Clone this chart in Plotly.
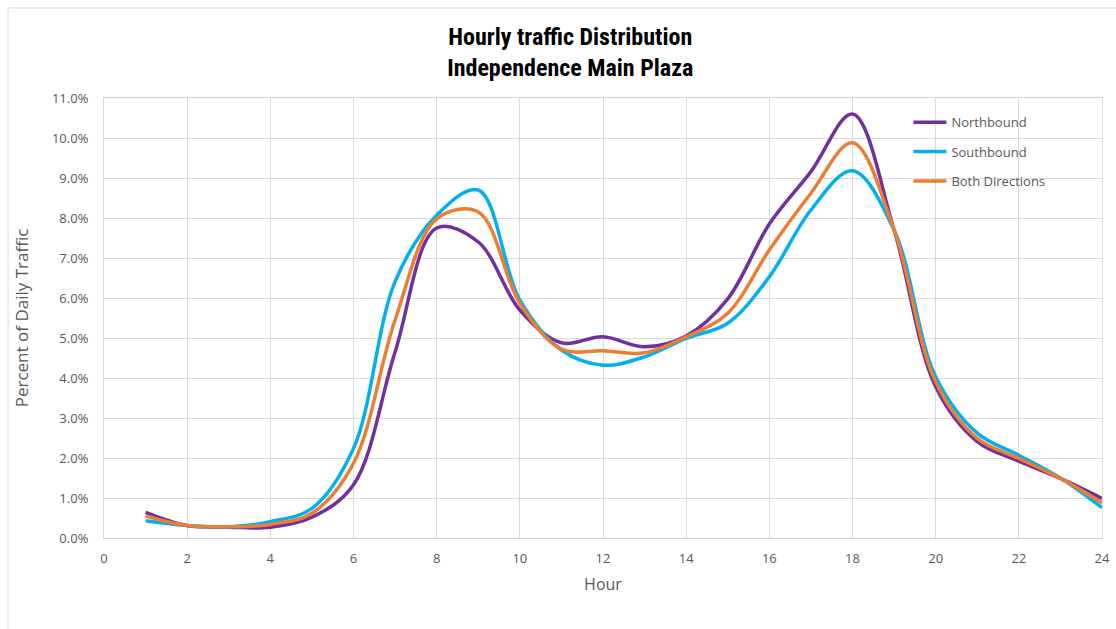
import plotly.graph_objects as go

hours = list(range(1, 25))
northbound = [0.64, 0.31, 0.27, 0.27, 0.52, 1.33, 4.65, 7.75, 7.40, 5.70, 4.88, 5.03,
              4.78, 5.05, 5.98, 7.85, 9.16, 10.60, 7.70, 3.78, 2.41, 1.92, 1.49, 0.99]
southbound = [0.43, 0.31, 0.28, 0.41, 0.74, 2.24, 6.41, 8.07, 8.70, 5.95, 4.70, 4.32,
              4.53, 4.99, 5.37, 6.53, 8.20, 9.18, 7.70, 4.03, 2.62, 2.07, 1.50, 0.76]
both_dirs = [0.55, 0.31, 0.28, 0.34, 0.62, 1.87, 5.45, 7.98, 8.15, 5.87, 4.72, 4.68,
             4.63, 5.03, 5.62, 7.20, 8.62, 9.88, 7.70, 3.90, 2.49, 1.99, 1.49, 0.88]

series = [("Northbound", northbound, "#7030A0"),
          ("Southbound", southbound, "#00B0F0"),
          ("Both Directions", both_dirs, "#ED7D31")]

y_ticks = list(range(0, 12))
y_labels = [f"{v:.1f}%" for v in y_ticks]
x_ticks = list(range(0, 25, 2))

TITLE_FONT = "Liberation Sans Narrow, Roboto Condensed, Liberation Sans, sans-serif"
FONT = "Open Sans, Roboto, sans-serif"
GRAY = "#595959"

fig = go.Figure()
for i, (name, vals, col) in enumerate(series):
    fig.add_trace(go.Scatter(
        x=hours, y=vals, name=name, mode="lines",
        line=dict(color=col, width=3.5, shape="spline", smoothing=1.0),
        legendgroup=f"g{i}", hoverinfo="skip"))

fig.update_layout(
    width=1116, height=629,
    margin=dict(l=104, r=14, t=98, b=91, autoexpand=False),
    paper_bgcolor="white", plot_bgcolor="white",
    title=dict(text="<b>Hourly traffic Distribution<br>Independence Main Plaza</b>",
               x=0.511, xanchor="center", y=0.929, yanchor="top",
               font=dict(family=TITLE_FONT, size=24, color="black")),
    font=dict(family=FONT, size=12, color=GRAY),
    showlegend=True,
    legend=dict(x=0.806, y=0.979, xanchor="left", yanchor="top",
                bgcolor="rgba(0,0,0,0)", font=dict(family=FONT, size=13, color=GRAY),
                tracegroupgap=9.5, itemwidth=33),
    xaxis=dict(range=[0, 24], tickvals=x_ticks, showgrid=True, gridcolor="#D9D9D9",
               gridwidth=1, zeroline=False, showline=True, linecolor="#D0D0D0",
               mirror=True, ticks="", ticklabelstandoff=8, automargin=False,
               tickfont=dict(family=FONT, size=13, color=GRAY),
               title=dict(text="Hour", font=dict(family=FONT, size=16, color=GRAY),
                          standoff=13)),
    yaxis=dict(range=[0, 11], tickvals=y_ticks, ticktext=y_labels, showgrid=True,
               gridcolor="#D9D9D9", gridwidth=1, zeroline=False, showline=True,
               linecolor="#D9D9D9", mirror=True, ticks="", ticklabelstandoff=12,
               automargin=False,
               tickfont=dict(family=FONT, size=13, color=GRAY),
               title=dict(text="Percent of Daily Traffic",
                          font=dict(family=FONT, size=17, color=GRAY), standoff=18)),
)

# outer chart frame (left and top edges visible in reference)
fx = (8 - 104) / 998
fy = (538 - 8) / 440
fig.add_shape(type="line", xref="paper", yref="paper",
              x0=fx, x1=1.02, y0=fy, y1=fy, line=dict(color="#D9D9D9", width=1))
fig.add_shape(type="line", xref="paper", yref="paper",
              x0=fx, x1=fx, y0=-0.3, y1=fy, line=dict(color="#D9D9D9", width=1))

fig.write_html("out.html", config={"displayModeBar": False},
               post_script="document.body.style.margin='0';")
